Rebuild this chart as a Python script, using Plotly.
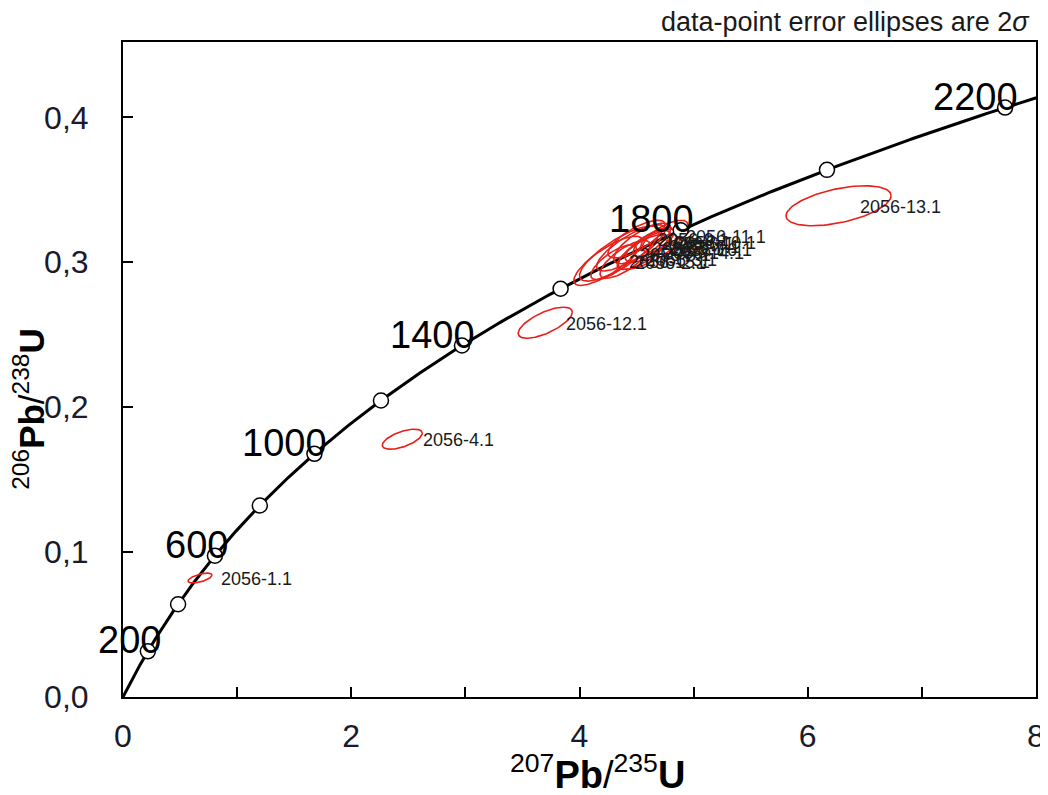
import numpy as np
import plotly.graph_objects as go

# ---- data ----
LAMBDA_238 = 1.55125e-10
LAMBDA_235 = 9.8485e-10
marker_ages = [200, 400, 600, 800, 1000, 1200, 1400, 1600, 1800, 2000, 2200]
label_ages = [200, 600, 1000, 1400, 1800, 2200]

spot_names = ["2056-1.1", "2056-4.1", "2056-12.1", "2056-13.1",
              "2056-2.1", "2056-3.1", "2056-5.1", "2056-6.1", "2056-7.1", "2056-8.1",
              "2056-9.1", "2056-10.1", "2056-11.1", "2056-14.1", "2056-15.1", "2056-16.1"]
pb207_u235 = [0.675, 2.447, 3.70, 6.27,
              4.30, 4.40, 4.45, 4.55, 4.60, 4.35, 4.50, 4.65, 4.75, 4.55, 4.25, 4.62]
pb206_u238 = [0.0821, 0.1779, 0.2583, 0.339,
              0.300, 0.302, 0.310, 0.313, 0.311, 0.306, 0.316, 0.314, 0.318, 0.307, 0.301, 0.309]
err_x = [0.105, 0.175, 0.237, 0.46,
         0.20, 0.22, 0.30, 0.25, 0.20, 0.35, 0.25, 0.18, 0.20, 0.22, 0.30, 0.28]
err_y = [0.0034, 0.0069, 0.0107, 0.0138,
         0.012, 0.013, 0.016, 0.014, 0.011, 0.019, 0.013, 0.010, 0.011, 0.012, 0.017, 0.014]
rho = [0.6, 0.6, 0.68, 0.5,
       0.75, 0.75, 0.8, 0.75, 0.7, 0.8, 0.75, 0.7, 0.7, 0.75, 0.8, 0.75]

x_tick_vals = [0, 1, 2, 3, 4, 5, 6, 7, 8]
x_tick_text = ["0", "", "2", "", "4", "", "6", "", "8"]
y_tick_vals = [0.0, 0.1, 0.2, 0.3, 0.4]
y_tick_text = ["0,0", "0,1", "0,2", "0,3", "0,4"]


def concordia(t_ma):
    t = np.asarray(t_ma, dtype=float) * 1e6
    return np.exp(LAMBDA_235 * t) - 1, np.exp(LAMBDA_238 * t) - 1


fig = go.Figure()

# concordia curve
tc = np.linspace(0, 2260, 400)
cx, cy = concordia(tc)
fig.add_trace(go.Scatter(x=cx, y=cy, mode="lines", line=dict(color="black", width=3),
                         hoverinfo="skip", showlegend=False))

# error ellipses
th = np.linspace(0, 2 * np.pi, 120)
for name, x0, y0, a, b, r in zip(spot_names, pb207_u235, pb206_u238, err_x, err_y, rho):
    ex = x0 + a * np.cos(th)
    ey = y0 + b * (r * np.cos(th) + np.sqrt(1 - r * r) * np.sin(th))
    fig.add_trace(go.Scatter(x=ex, y=ey, mode="lines", line=dict(color="#e8201a", width=1.6),
                             hoverinfo="skip", showlegend=False))
    fig.add_annotation(x=x0, y=y0, xref="x", yref="y", text=name, showarrow=False,
                       xanchor="left", yanchor="middle", xshift=19, yshift=-1,
                       font=dict(family="Liberation Sans", size=18, color="#1a1a1a"))

# age markers
mx, my = concordia(marker_ages)
fig.add_trace(go.Scatter(x=mx, y=my, mode="markers",
                         marker=dict(symbol="circle", size=15, color="white",
                                     line=dict(color="black", width=1.5)),
                         hoverinfo="skip", showlegend=False))

lx, ly = concordia(label_ages)
for age, x0, y0 in zip(label_ages, lx, ly):
    fig.add_annotation(x=x0, y=y0, xref="x", yref="y", text=str(age), showarrow=False,
                       xanchor="right", yanchor="bottom", xshift=15, yshift=-12,
                       font=dict(family="Liberation Sans", size=38, color="black"))

# titles
fig.add_annotation(x=1.0, y=1.0, xref="paper", yref="paper", yshift=3, xshift=-4,
                   text="data-point error ellipses are 2<i>σ</i>", showarrow=False,
                   xanchor="right", yanchor="bottom",
                   font=dict(family="Liberation Sans", size=27, color="#1a1a1a"))
fig.add_annotation(x=0.52, y=-0.115, xref="paper", yref="paper",
                   text="<sup>207</sup><b>Pb</b>/<sup>235</sup><b>U</b>", showarrow=False,
                   xanchor="center", yanchor="middle",
                   font=dict(family="Liberation Sans", size=38, color="black"))
fig.add_annotation(x=-0.103, y=0.44, xref="paper", yref="paper", textangle=-90,
                   text="<sup>206</sup><b>Pb</b>/<sup>238</sup><b>U</b>", showarrow=False,
                   xanchor="center", yanchor="middle",
                   font=dict(family="Liberation Sans", size=35, color="black"))

fig.update_xaxes(range=[0, 8], tickvals=x_tick_vals, ticktext=x_tick_text,
                 ticks="inside", ticklen=10, tickwidth=1.5, tickcolor="black",
                 showgrid=False, zeroline=False, showline=True, linecolor="black",
                 linewidth=2, mirror=True, ticklabelstandoff=10, automargin=False,
                 tickfont=dict(family="Liberation Sans", size=32, color="#1a1a2a"))
fig.update_yaxes(range=[0, 0.452], tickvals=y_tick_vals, ticktext=y_tick_text,
                 ticks="inside", ticklen=10, tickwidth=1.5, tickcolor="black",
                 showgrid=False, zeroline=False, showline=True, linecolor="black",
                 linewidth=2, mirror=True, ticklabelstandoff=26, automargin=False,
                 tickfont=dict(family="Liberation Sans", size=32, color="#1a1a2a"))

fig.update_layout(width=1040, height=787, margin=dict(l=115, r=12, t=34, b=98),
                  plot_bgcolor="white", paper_bgcolor="white")

fig.write_html("out.html")
